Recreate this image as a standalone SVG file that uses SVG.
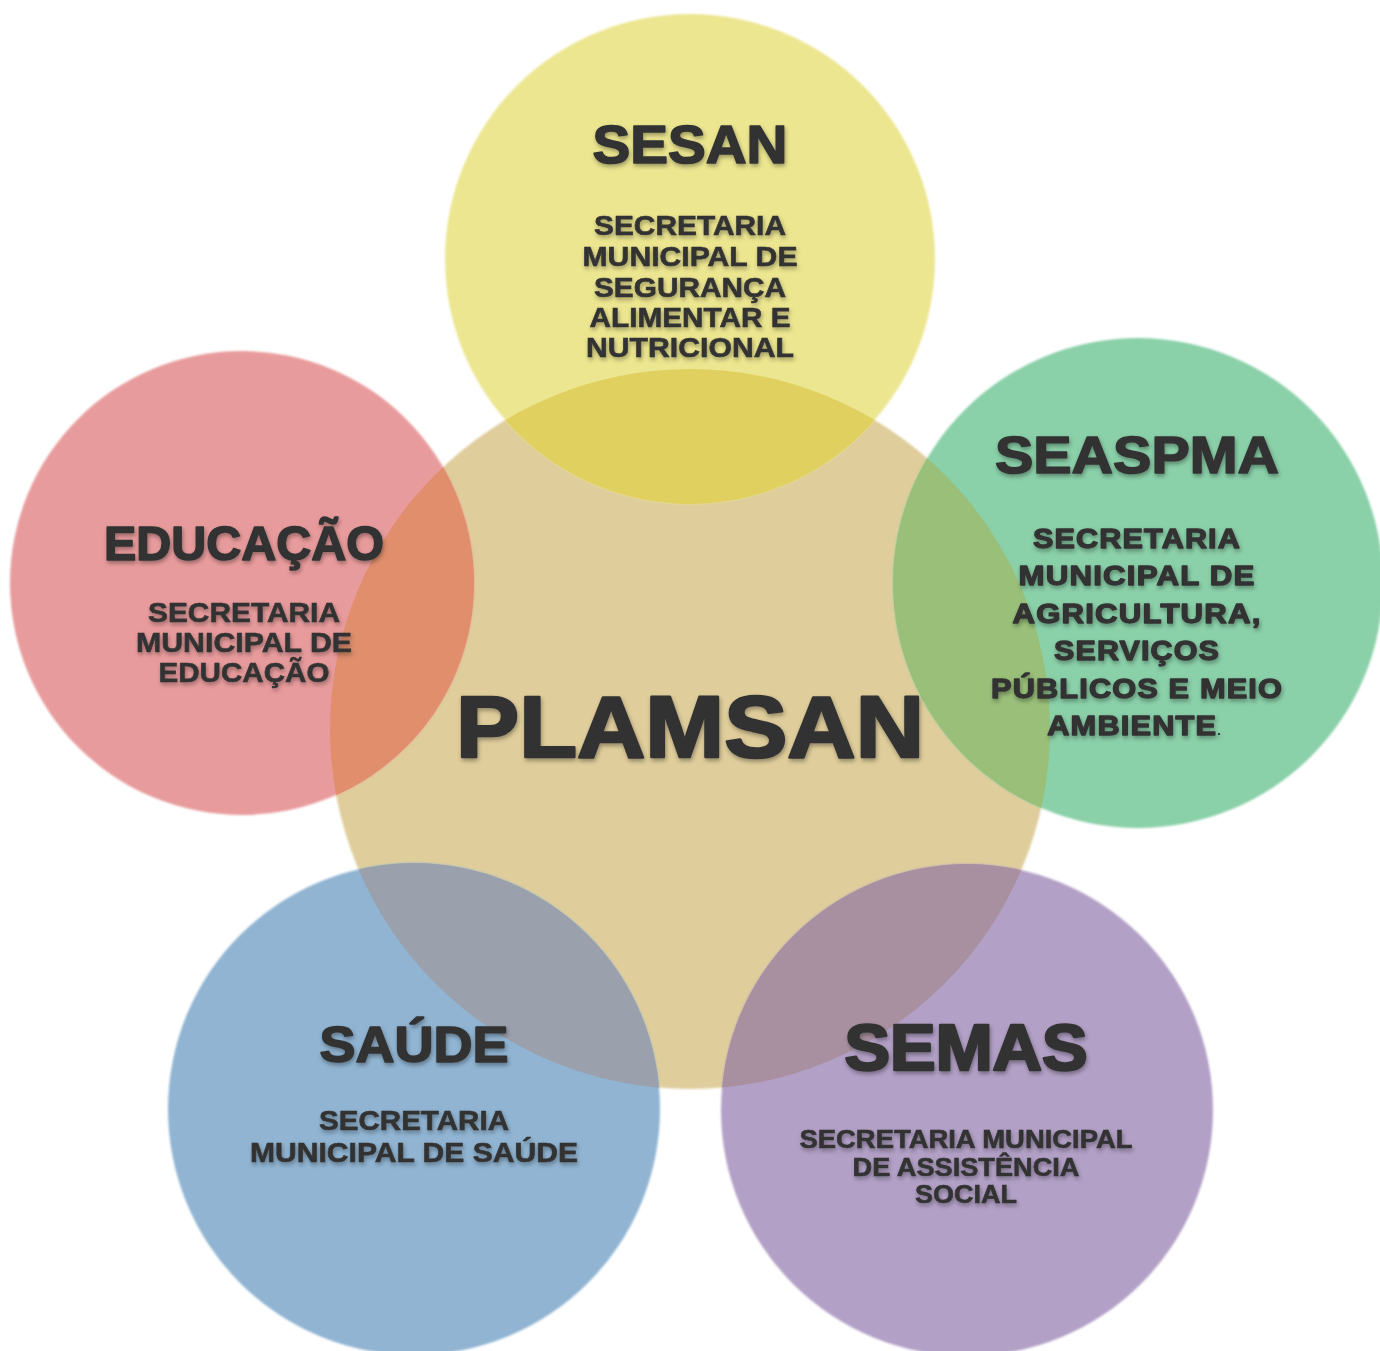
<svg xmlns="http://www.w3.org/2000/svg" width="1380" height="1351" viewBox="0 0 1380 1351">
  <defs>
    <clipPath id="clip-center"><circle cx="690" cy="729" r="360"/></clipPath>
    <filter id="soft" x="-5%" y="-5%" width="110%" height="110%">
      <feGaussianBlur stdDeviation="0.9"/>
    </filter>
    <filter id="shadow" x="-10%" y="-30%" width="120%" height="160%">
      <feDropShadow dx="1" dy="2.5" stdDeviation="2" flood-color="#000" flood-opacity="0.35"/>
    </filter>
  </defs>
  <style>
    text { font-family: "Liberation Sans", Arial, sans-serif; font-weight: bold; fill: #333333; text-anchor: middle; filter: url(#shadow); }
    .title { stroke: #333333; stroke-width: 1.6; stroke-linejoin: round; }
    .big { stroke: #333333; stroke-width: 2.6; stroke-linejoin: round; }
    .sub { font-size: 28.5px; stroke: #333333; stroke-width: 0.6; }
    .sub-sm { font-size: 26.5px; stroke: #333333; stroke-width: 0.6; }
    .sub-wide { font-size: 27px; stroke: #333333; stroke-width: 1.3; stroke-linejoin: round; letter-spacing: 1px; }
  </style>

  <rect width="1380" height="1351" fill="#ffffff"/>

  <!-- centre circle -->
  <g id="plamsan">
    <circle cx="690" cy="729" r="360" fill="#dfcd9b" filter="url(#soft)"/>
  </g>

  <!-- outer circles, each with its lens where it overlaps the centre -->
  <g id="sesan">
    <circle cx="690" cy="259" r="245" fill="#ece690" filter="url(#soft)"/>
    <circle cx="690" cy="259" r="245" fill="#e0d060" clip-path="url(#clip-center)"/>
  </g>
  <g id="seaspma">
    <circle cx="1138" cy="583" r="245" fill="#8ad0a9" filter="url(#soft)"/>
    <circle cx="1138" cy="583" r="245" fill="#99bf79" clip-path="url(#clip-center)"/>
  </g>
  <g id="educacao">
    <circle cx="242" cy="583" r="232" fill="#e89b9c" filter="url(#soft)"/>
    <circle cx="242" cy="583" r="232" fill="#e08e6c" clip-path="url(#clip-center)"/>
  </g>
  <g id="saude">
    <circle cx="414" cy="1109" r="246" fill="#90b4d2" filter="url(#soft)"/>
    <circle cx="414" cy="1109" r="246" fill="#9aa0ac" clip-path="url(#clip-center)"/>
  </g>
  <g id="semas">
    <circle cx="967" cy="1110" r="246" fill="#b2a0c6" filter="url(#soft)"/>
    <circle cx="967" cy="1110" r="246" fill="#a890a0" clip-path="url(#clip-center)"/>
  </g>

  <!-- labels -->
  <g id="labels">
    <text class="big" x="690" y="757" font-size="87" textLength="468" lengthAdjust="spacingAndGlyphs">PLAMSAN</text>

    <text class="title" x="690" y="163" font-size="53" textLength="195" lengthAdjust="spacingAndGlyphs">SESAN</text>
    <text class="sub" x="690" y="235" textLength="192" lengthAdjust="spacingAndGlyphs">SECRETARIA</text>
    <text class="sub" x="690" y="266" textLength="215" lengthAdjust="spacingAndGlyphs">MUNICIPAL DE</text>
    <text class="sub" x="690" y="297" textLength="192" lengthAdjust="spacingAndGlyphs">SEGURANÇA</text>
    <text class="sub" x="690" y="327" textLength="201" lengthAdjust="spacingAndGlyphs">ALIMENTAR E</text>
    <text class="sub" x="690" y="357" textLength="208" lengthAdjust="spacingAndGlyphs">NUTRICIONAL</text>

    <text class="title" x="1137" y="473" font-size="52" textLength="284" lengthAdjust="spacingAndGlyphs">SEASPMA</text>
    <text class="sub-wide" x="1137" y="548" textLength="208" lengthAdjust="spacingAndGlyphs">SECRETARIA</text>
    <text class="sub-wide" x="1137" y="585" textLength="237" lengthAdjust="spacingAndGlyphs">MUNICIPAL DE</text>
    <text class="sub-wide" x="1137" y="623" textLength="249" lengthAdjust="spacingAndGlyphs">AGRICULTURA,</text>
    <text class="sub-wide" x="1137" y="660" textLength="166" lengthAdjust="spacingAndGlyphs">SERVIÇOS</text>
    <text class="sub-wide" x="1137" y="698" textLength="292" lengthAdjust="spacingAndGlyphs">PÚBLICOS E MEIO</text>
    <text class="sub-wide" x="1134" y="735"><tspan textLength="170" lengthAdjust="spacingAndGlyphs">AMBIENTE</tspan><tspan font-size="13" stroke-width="0" letter-spacing="0">.</tspan></text>

    <text class="title" x="244" y="560" font-size="49" textLength="280" lengthAdjust="spacingAndGlyphs">EDUCAÇÃO</text>
    <text class="sub" x="244" y="622" textLength="192" lengthAdjust="spacingAndGlyphs">SECRETARIA</text>
    <text class="sub" x="244" y="652" textLength="216" lengthAdjust="spacingAndGlyphs">MUNICIPAL DE</text>
    <text class="sub" x="244" y="682" textLength="171" lengthAdjust="spacingAndGlyphs">EDUCAÇÃO</text>

    <text class="title" x="414" y="1062" font-size="50" textLength="189" lengthAdjust="spacingAndGlyphs">SAÚDE</text>
    <text class="sub" x="414" y="1130" textLength="190" lengthAdjust="spacingAndGlyphs">SECRETARIA</text>
    <text class="sub" x="414" y="1162" textLength="328" lengthAdjust="spacingAndGlyphs">MUNICIPAL DE SAÚDE</text>

    <text class="big" x="966" y="1070" font-size="64" textLength="243" lengthAdjust="spacingAndGlyphs">SEMAS</text>
    <text class="sub-sm" x="966" y="1148" textLength="333" lengthAdjust="spacingAndGlyphs">SECRETARIA MUNICIPAL</text>
    <text class="sub-sm" x="966" y="1176" textLength="227" lengthAdjust="spacingAndGlyphs">DE ASSISTÊNCIA</text>
    <text class="sub-sm" x="966" y="1203" textLength="102" lengthAdjust="spacingAndGlyphs">SOCIAL</text>
  </g>
</svg>
